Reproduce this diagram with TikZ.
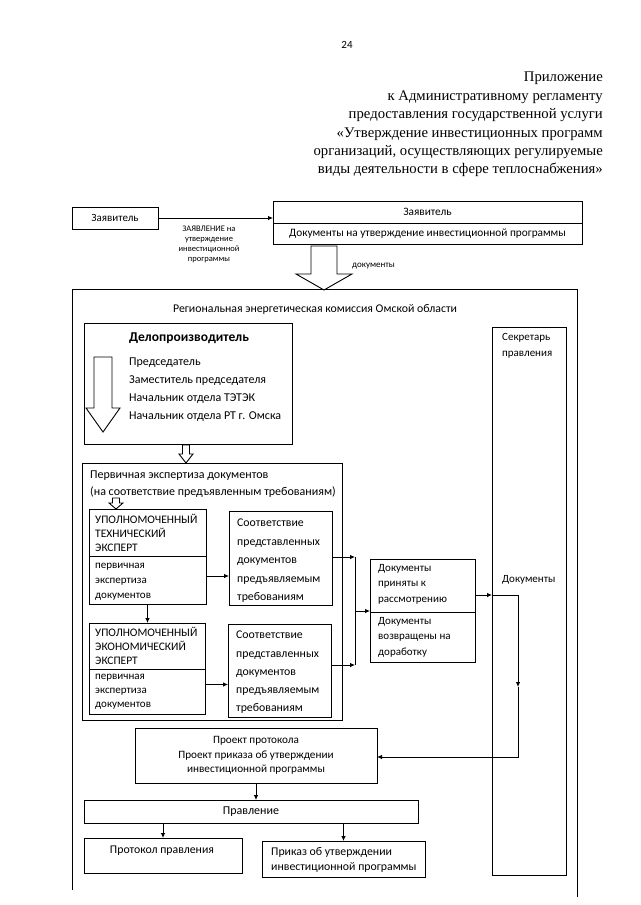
\documentclass[tikz,border=0pt]{standalone}
\usepackage{fontspec}
\setmainfont{Carlito}
\newfontfamily\seriffont{Liberation Serif}
\usetikzlibrary{arrows.meta}
\begin{document}
\begin{tikzpicture}[x=1pt,y=-1pt,
  box/.style={draw, line width=1pt, inner sep=0pt, outer sep=0pt, anchor=north west, font=\fontsize{11.3}{14.5}\selectfont},
  arr/.style={-{Latex[length=5pt,width=4.5pt]}, line width=0.8pt},
  ln/.style={line width=0.8pt},
  hol/.style={draw, line width=0.9pt, fill=white},
  txt/.style={inner sep=0pt, font=\fontsize{11}{13}\selectfont},
  ml/.style={inner sep=0pt, align=left, anchor=north west},
  hdr/.style={inner sep=0pt, anchor=base east, font=\seriffont\fontsize{14.7}{18}\selectfont}
]
\useasboundingbox (0,0) rectangle (640,905);

% page number and header
\node[txt] (pnum) at (347,45) {24};
\node[hdr] (h1) at (603,81) {Приложение};
\node[hdr] (h2) at (603,100) {к Административному регламенту};
\node[hdr] (h3) at (603,118) {предоставления государственной услуги};
\node[hdr] (h4) at (603,137) {«Утверждение инвестиционных программ};
\node[hdr] (h5) at (603,155) {организаций, осуществляющих регулируемые};
\node[hdr] (h6) at (603,173) {виды деятельности в сфере теплоснабжения»};

% applicant
\node[box, minimum width=86pt, minimum height=22pt, font=\fontsize{11}{13}\selectfont] (zayav) at (72,207) {Заявитель};
\node[box, minimum width=309pt, minimum height=22pt] (rtop) at (273,201) {Заявитель};
\node[box, minimum width=309pt, minimum height=21pt] (rbot) at (273,223) {Документы на утверждение инвестиционной программы};
\draw[arr] (zayav.east) -- (rtop.west |- zayav.east);
\node[inner sep=0pt, align=center, font=\fontsize{8.5}{10}\selectfont] (zlab) at (209,244) {ЗАЯВЛЕНИЕ на\\утверждение\\инвестиционной\\программы};

% big hollow arrow
\draw[hol] (311,246) -- (337,246) -- (337,274) -- (352,274) -- (324,290) -- (296,274) -- (311,274) -- cycle;
\node[txt, anchor=west, font=\fontsize{9}{10}\selectfont] (doclab) at (352,266) {документы};

% outer frame
\draw[line width=1pt] (72,890) -- (72,289) -- (577,289) -- (577,897);
\node[txt, font=\fontsize{11.8}{13}\selectfont] (title) at (315,309) {Региональная энергетическая комиссия Омской области};

% Delo box
\node[box, minimum width=208pt, minimum height=121pt] (delo) at (84,323) {};
\node[txt, font=\bfseries\fontsize{13.5}{15}\selectfont] (delot) at (189,338) {Делопроизводитель};
\node[ml, font=\fontsize{12}{18}\selectfont] (delol) at (129,358) {Председатель\\Заместитель председателя\\Начальник отдела ТЭТЭК\\Начальник отдела РТ г. Омска};
\draw[hol] (94,357) -- (112,357) -- (112,408) -- (120,408) -- (103,432) -- (86,408) -- (94,408) -- cycle;

% small hollow arrow to primary
\draw[hol] (182.5,445) -- (189.5,445) -- (189.5,454) -- (193,454) -- (186,463) -- (179,454) -- (182.5,454) -- cycle;

% primary expertise
\node[box, minimum width=260pt, minimum height=257pt] (prim) at (82,463) {};
\node[ml, font=\fontsize{12}{17}\selectfont] (primt) at (90,471) {Первичная экспертиза документов\\(на соответствие предъявленным требованиям)};
\draw[hol] (112.5,498) -- (119.5,498) -- (119.5,503) -- (123,503) -- (116,509) -- (109,503) -- (112.5,503) -- cycle;

\node[box, minimum width=117pt, minimum height=47pt] (techtop) at (89,509) {};
\node[box, minimum width=117pt, minimum height=48pt] (techbot) at (89,556) {};
\node[ml, font=\fontsize{11.5}{14}\selectfont] (techtt) at (95,514) {УПОЛНОМОЧЕННЫЙ\\ТЕХНИЧЕСКИЙ\\ЭКСПЕРТ};
\node[ml, font=\fontsize{11}{15}\selectfont] (techbt) at (95,563) {первичная\\экспертиза\\документов};

\node[box, minimum width=103pt, minimum height=94pt] (comp1) at (229,511) {};
\node[ml, font=\fontsize{11.8}{18.5}\selectfont] (comp1t) at (237,519) {Соответствие\\представленных\\документов\\предъявляемым\\требованиям};

\node[box, minimum width=116pt, minimum height=46pt] (econtop) at (89,623) {};
\node[box, minimum width=116pt, minimum height=45pt] (econbot) at (89,669) {};
\node[ml, font=\fontsize{11.5}{14}\selectfont] (econtt) at (95,627) {УПОЛНОМОЧЕННЫЙ\\ЭКОНОМИЧЕСКИЙ\\ЭКСПЕРТ};
\node[ml, font=\fontsize{11}{14}\selectfont] (econbt) at (95,674) {первичная\\экспертиза\\документов};

\node[box, minimum width=103pt, minimum height=93pt] (comp2) at (228,624) {};
\node[ml, font=\fontsize{11.8}{18.2}\selectfont] (comp2t) at (236,631) {Соответствие\\представленных\\документов\\предъявляемым\\требованиям};

\draw[arr] (techbot.south) -- (techbot.south |- econtop.north);
\draw[arr] ([yshift=4pt]techbot.east) -- ([yshift=4pt]techbot.east -| comp1.west);
\draw[arr] ([yshift=7pt]econbot.east) -- ([yshift=7pt]econbot.east -| comp2.west);

% documents accepted / returned
\node[box, minimum width=105pt, minimum height=53pt] (docstop) at (370,559) {};
\node[box, minimum width=105pt, minimum height=50pt] (docsbot) at (370,612) {};
\node[ml, font=\fontsize{11}{15.5}\selectfont] (docstt) at (378,564) {Документы\\приняты к\\рассмотрению};
\node[ml, font=\fontsize{11}{15.5}\selectfont] (docsbt) at (378,617) {Документы\\возвращены на\\доработку};

\coordinate (j1) at (355,557);
\coordinate (j2) at (355,665);
\coordinate (jm) at (355,611);
\draw[arr] (comp1.east |- j1) -- (j1);
\draw[arr] (comp2.east |- j2) -- (j2);
\draw[ln] (j1) -- (j2);
\draw[arr] (jm) -- (jm -| docstop.west);

% secretary
\node[box, minimum width=74pt, minimum height=548pt] (sec) at (492,327) {};
\node[ml, font=\fontsize{11}{16}\selectfont] (sect) at (502,333) {Секретарь\\правления};
\node[txt, anchor=west, font=\fontsize{11}{13}\selectfont] (secd) at (502,580) {Документы};

\coordinate (s1) at (492,595);
\coordinate (s2) at (518,595);
\coordinate (s3) at (518,757);
\coordinate (s4) at (518,687);

% project
\node[box, minimum width=242pt, minimum height=55pt, align=center, font=\fontsize{11.2}{14.5}\selectfont] (proj) at (135,728) {Проект протокола\\Проект приказа об утверждении\\инвестиционной программы};

\draw[arr] (docstop.east |- s1) -- (s1);
\draw[ln] (s1) -- (s2);
\draw[arr] (s2) -- (s4);
\draw[arr] (s4) -- (s3) -- (proj.east |- s3);

% board
\node[box, minimum width=334pt, minimum height=23pt, font=\fontsize{12}{14}\selectfont] (prav) at (84,800) {Правление};
\draw[arr] (proj.south) -- (proj.south |- prav.north);

\node[box, minimum width=158pt, minimum height=35pt] (prot) at (84,838) {};
\node[txt, font=\fontsize{11.8}{13}\selectfont] (prott) at (162,851) {Протокол правления};
\node[box, minimum width=163pt, minimum height=36pt] (order) at (262,841) {};
\node[ml, font=\fontsize{11.8}{15}\selectfont] (ordert) at (271,847) {Приказ об утверждении\\инвестиционной программы};

\draw[arr] (prav.south -| prot.north) -- (prot.north);
\draw[arr] (prav.south -| order.north) -- (order.north);
\end{tikzpicture}
\end{document}
